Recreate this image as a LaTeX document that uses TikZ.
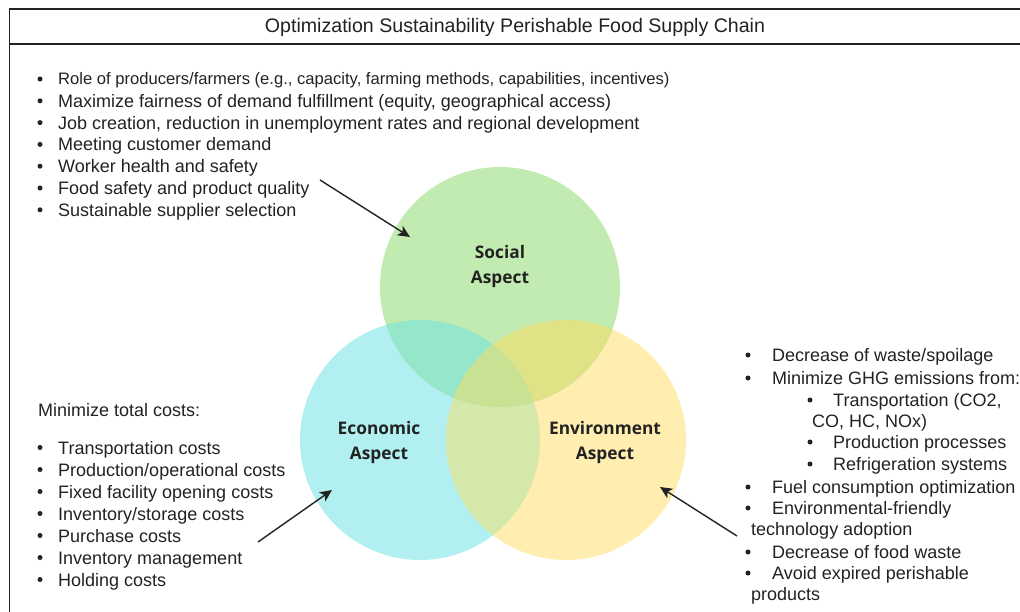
\documentclass[tikz,border=0pt]{standalone}
\usepackage{fontspec}
\setmainfont{Liberation Sans}
\newfontfamily\aspectfont{Open Sans}
\usetikzlibrary{arrows.meta}

% Venn colours
\definecolor{socC}{HTML}{C2EBB1}
\definecolor{ecoC}{HTML}{B1EFF1}
\definecolor{envC}{HTML}{FFEEB0}
\definecolor{socecoC}{HTML}{94E7CA}
\definecolor{socenvC}{HTML}{E0E286}
\definecolor{ecoenvC}{HTML}{D4E8AB}
\definecolor{allC}{HTML}{C9E192}
\definecolor{inkC}{HTML}{222222}

\tikzset{
  frameline/.style={line width=1.5pt, draw=inkC},
  itemtext/.style={anchor=base west, inner sep=0pt, text=inkC,
                   font=\fontsize{18}{22}\selectfont},
  smalltext/.style={itemtext, font=\fontsize{16.6}{20}\selectfont},
  aspect/.style={align=center, inner sep=0pt, text=inkC,
                 font=\aspectfont\bfseries\fontsize{17.3}{25}\selectfont},
  pointer/.style={draw=inkC, line width=1.4pt,
                  -{Stealth[length=12pt,width=11pt,inset=3pt]}},
  dot/.style={fill=inkC}
}

\begin{document}
\begin{tikzpicture}[x=1pt,y=-1pt]
\useasboundingbox (0,0) rectangle (1020,612);

% outer frame, open to the right and below
\draw[frameline] (9.5,612) -- (9.5,9) -- (1020,9);
\draw[frameline] (9.5,44) -- (1020,44);
\node[text=inkC, font=\fontsize{19.6}{22}\selectfont] (title) at (515,27)
  {Optimization Sustainability Perishable Food Supply Chain};

% ---- Venn diagram ----
\coordinate (cs) at (500,287);
\coordinate (ce) at (420,440);
\coordinate (cv) at (566,440);
\fill[ecoC] (ce) circle[radius=120pt];
\fill[envC] (cv) circle[radius=120pt];
\fill[socC] (cs) circle[radius=120pt];
\begin{scope}
  \clip (cs) circle[radius=120pt];
  \fill[socecoC] (ce) circle[radius=120pt];
  \fill[socenvC] (cv) circle[radius=120pt];
\end{scope}
\begin{scope}
  \clip (ce) circle[radius=120pt];
  \fill[ecoenvC] (cv) circle[radius=120pt];
\end{scope}
\begin{scope}
  \clip (cs) circle[radius=120pt];
  \clip (ce) circle[radius=120pt];
  \fill[allC] (cv) circle[radius=120pt];
\end{scope}

\node[aspect] (social) at (500,267) {Social\\Aspect};
\node[aspect] (economic) at (379,443) {Economic\\Aspect};
\node[aspect] (environment) at (605,443) {Environment\\Aspect};

% ---- social list ----
\fill[dot] (40,79) circle[radius=2.5pt];
\node[smalltext] (s1) at (58,85)
  {Role of producers/farmers (e.g., capacity, farming methods, capabilities, incentives)};
\foreach \t [count=\i] in {
  {Maximize fairness of demand fulfillment (equity, geographical access)},
  {Job creation, reduction in unemployment rates and regional development},
  {Meeting customer demand},
  {Worker health and safety},
  {Food safety and product quality},
  {Sustainable supplier selection}}{
  \fill[dot] (40,79+\i*21.8) circle[radius=2.5pt];
  \node[itemtext] (s\i x) at (58,85.5+\i*21.8) {\t};
}

% ---- economic list ----
\node[itemtext] (ehead) at (38,416) {Minimize total costs:};
\foreach \t [count=\i] in {
  {Transportation costs},
  {Production/operational costs},
  {Fixed facility opening costs},
  {Inventory/storage costs},
  {Purchase costs},
  {Inventory management},
  {Holding costs}}{
  \fill[dot] (40,425.5+\i*22) circle[radius=2.5pt];
  \node[itemtext] (e\i) at (58,432+\i*22) {\t};
}

% ---- environment list ----
\foreach \y in {355,378,487,508,552,573}
  \fill[dot] (748,\y) circle[radius=2.5pt];
\foreach \y in {400,442,464}
  \fill[dot] (810,\y) circle[radius=2.5pt];
\node[itemtext] (v1) at (772,361) {Decrease of waste/spoilage};
\node[itemtext] (v2) at (772,384) {Minimize GHG emissions from:};
\node[itemtext] (v3) at (833,406) {Transportation (CO2,};
\node[itemtext] (v4) at (812,427) {CO, HC, NOx)};
\node[itemtext] (v5) at (833,448) {Production processes};
\node[itemtext] (v6) at (833,470) {Refrigeration systems};
\node[itemtext] (v7) at (772,493) {Fuel consumption optimization};
\node[itemtext] (v8) at (772,514) {Environmental-friendly};
\node[itemtext] (v9) at (751,535) {technology adoption};
\node[itemtext] (v10) at (772,558) {Decrease of food waste};
\node[itemtext] (v11) at (772,579) {Avoid expired perishable};
\node[itemtext] (v12) at (751,600) {products};

% ---- pointers from the lists into the circles ----
\coordinate (ps0) at (320,180);
\coordinate (ps1) at (410,237);
\coordinate (pe0) at (258,542);
\coordinate (pe1) at (332,490);
\coordinate (pv0) at (737,536);
\coordinate (pv1) at (660,487);
\draw[pointer] (ps0) -- (ps1);
\draw[pointer] (pe0) -- (pe1);
\draw[pointer] (pv0) -- (pv1);
\end{tikzpicture}
\end{document}
